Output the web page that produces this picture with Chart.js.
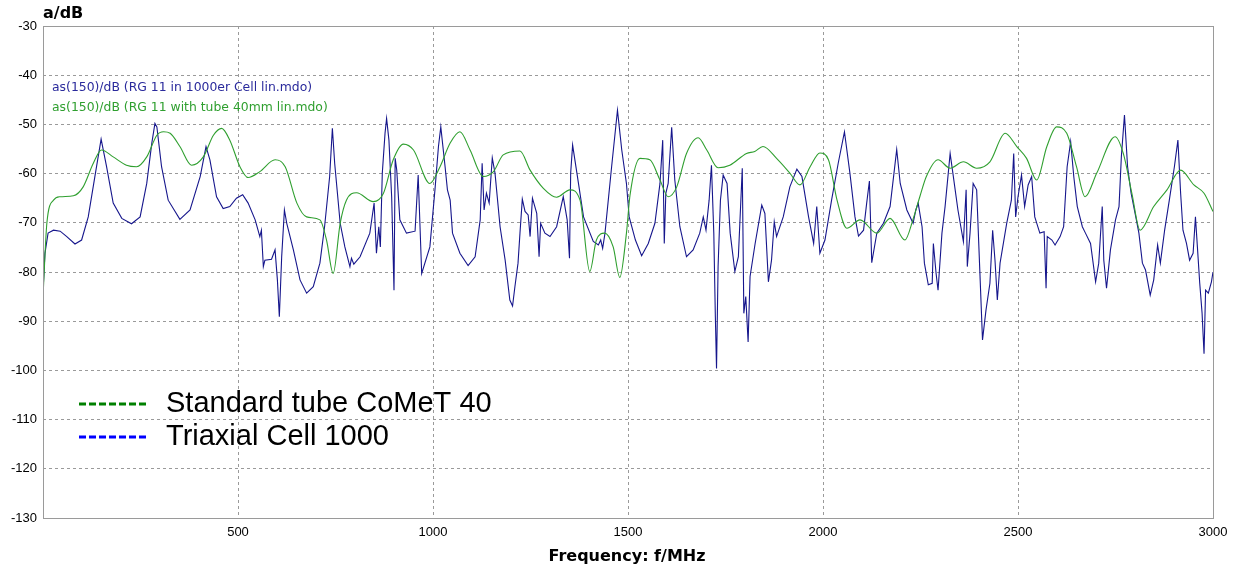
<!DOCTYPE html>
<html>
<head>
<meta charset="utf-8">
<script src="https://cdn.jsdelivr.net/npm/chart.js@4.4.1/dist/chart.umd.min.js"></script>
<style>
html,body{margin:0;padding:0;background:#fff;}
#wrap{width:1235px;height:568px;position:relative;}
</style>
</head>
<body>
<div id="wrap"><canvas id="c"></canvas></div>
<script>
// ---- data (frequency in MHz, attenuation in dB) ----
const xTicks = [500, 1000, 1500, 2000, 2500, 3000];
const yTicks = [-30, -40, -50, -60, -70, -80, -90, -100, -110, -120, -130];

const tubeFreq = [0,10,27,44,78,103,129,150,180,214,240,266,292,309,326,351,381,411,437,458,479,505,526,556,595,621,651,676,710,727,744,762,778,804,847,873,898,924,950,992,1018,1044,1069,1095,1129,1155,1180,1223,1249,1283,1317,1351,1377,1402,1419,1440,1462,1479,1496,1505,1531,1556,1582,1603,1625,1650,1680,1702,1731,1761,1804,1825,1846,1881,1915,1941,1967,1992,2014,2036,2061,2095,2138,2172,2210,2232,2249,2265,2295,2326,2360,2394,2428,2467,2497,2522,2548,2574,2599,2625,2650,2672,2702,2749,2770,2792,2813,2848,2882,2917,2951,2977,3000];
const tubeDb = [-85,-70,-65.4,-64.7,-64.5,-62.7,-57.9,-55.2,-56.6,-58.3,-58.6,-56.6,-52.2,-51.5,-51.8,-54.5,-58.3,-56.6,-52.2,-50.8,-53.2,-58.6,-60.8,-59.6,-57.2,-58.6,-66.0,-68.8,-69.4,-73.5,-80.3,-70.1,-65.4,-63.9,-65.7,-64.0,-57.2,-54.0,-55.2,-62.0,-58.6,-53.8,-51.5,-55.2,-60.6,-59.6,-56.2,-55.4,-59.3,-63.0,-64.8,-63.3,-65.4,-79.9,-73.5,-72.1,-74.9,-81.1,-72.1,-64.5,-56.9,-57.2,-61.3,-64.7,-62.7,-55.9,-52.7,-55.2,-58.8,-58.3,-55.9,-55.5,-54.5,-56.9,-59.9,-62.3,-58.6,-55.8,-57.2,-65.4,-71.1,-69.4,-72.1,-69.1,-73.5,-69,-64.5,-60.6,-57.2,-58.9,-57.6,-58.9,-57.6,-51.8,-54.5,-56.9,-61.3,-54.5,-50.5,-51.8,-58.6,-64.7,-59.9,-52.5,-55.9,-64.0,-71.5,-66.7,-63.3,-59.3,-62.3,-64.0,-67.7];

const cellFreq = [0,5,13,27,44,61,82,99,116,133,149,163,180,202,227,249,266,279,287,292,304,321,351,377,403,418,428,445,462,479,496,512,526,544,556,560,565,569,586,595,601,606,612,619,625,642,659,676,693,710,722,735,742,748,762,774,787,791,797,813,838,849,855,861,865,870,877,881,887,894,900,903,907,915,932,954,962,971,992,1005,1014,1020,1031,1037,1044,1050,1069,1090,1108,1121,1126,1131,1137,1144,1152,1159,1172,1185,1197,1204,1210,1218,1223,1229,1236,1244,1249,1255,1266,1272,1276,1287,1300,1317,1334,1344,1350,1353,1358,1369,1386,1411,1424,1430,1435,1441,1458,1473,1484,1496,1503,1519,1535,1552,1569,1582,1589,1593,1597,1603,1612,1620,1633,1650,1667,1684,1693,1700,1708,1714,1720,1724,1727,1731,1737,1744,1754,1762,1774,1783,1793,1797,1802,1808,1813,1826,1843,1851,1860,1868,1875,1881,1898,1915,1933,1946,1963,1976,1984,1992,2005,2022,2039,2055,2069,2082,2091,2104,2112,2119,2125,2138,2155,2172,2182,2189,2198,2215,2231,2238,2244,2254,2260,2270,2280,2283,2290,2295,2305,2313,2326,2333,2346,2360,2367,2370,2377,2385,2394,2403,2409,2418,2428,2435,2441,2447,2454,2471,2483,2489,2494,2500,2509,2517,2526,2535,2543,2556,2567,2572,2575,2587,2595,2608,2617,2626,2635,2643,2652,2665,2673,2686,2699,2707,2716,2720,2727,2737,2750,2759,2765,2773,2781,2790,2802,2810,2819,2827,2839,2848,2858,2865,2876,2888,2901,2910,2917,2923,2932,2940,2949,2955,2960,2966,2972,2977,2981,2988,2996,3000];
const cellDb = [-84,-76.2,-72.1,-71.5,-71.7,-72.8,-74.3,-73.5,-68.8,-60.6,-53.0,-58.6,-66.0,-69.1,-70.2,-68.8,-62.0,-53.8,-49.8,-50.5,-58.6,-65.4,-69.3,-67.4,-60.6,-54.5,-57.2,-64.7,-67.1,-66.7,-65.0,-64.3,-66.0,-69.4,-72.8,-71.5,-78.9,-77.6,-77.4,-75.5,-81.6,-89.1,-76.9,-67.4,-70.1,-75.5,-81.6,-84.3,-83.0,-78.2,-70.8,-60.6,-50.8,-58,-70.1,-74.9,-78.9,-77.2,-78.4,-76.9,-72.1,-66.0,-76.2,-70.8,-74.9,-59.9,-51.8,-48.8,-53.2,-64.7,-83.7,-56.9,-59.3,-69.4,-72.1,-71.7,-60.3,-80.3,-74.9,-63.3,-54.5,-50.5,-58.6,-63.3,-65.4,-72.1,-76.2,-78.7,-76.9,-69.4,-57.9,-67.4,-64.0,-66.0,-56.8,-59.9,-70.8,-77.6,-85.7,-86.9,-83.0,-78.2,-72.1,-65.2,-67.7,-68.4,-72.8,-65.0,-68.1,-76.9,-70.1,-72.1,-72.8,-70.8,-64.7,-69.4,-77.2,-59.9,-54.2,-59.9,-68.8,-73.8,-74.5,-73.5,-75.2,-72.1,-58.6,-47.1,-55.2,-62.0,-68.8,-73.5,-76.7,-74.2,-70.1,-62.0,-53.2,-74.2,-64.0,-62.0,-50.6,-61.3,-70.8,-76.9,-75.5,-72.1,-68.8,-71.5,-65.4,-58.3,-72.1,-89.1,-99.6,-78.9,-65.4,-60.3,-62.0,-72.1,-79.9,-76.9,-58.9,-88.4,-85.0,-94.2,-80.9,-74.2,-66.4,-68.1,-82.0,-77.6,-69.8,-72.8,-68.8,-62.7,-59.1,-60.6,-68.8,-74.2,-66.7,-76.2,-73.5,-65.4,-57.9,-51.5,-59.9,-68.8,-72.7,-71.5,-66.0,-61.5,-78.1,-72.1,-70.1,-66.7,-59.9,-55.1,-62.0,-67.4,-70.1,-67.4,-66.0,-70.8,-78.2,-82.6,-82.3,-74.2,-80.3,-83.7,-72.1,-66.7,-55.9,-59.9,-67.4,-73.8,-63.3,-78.9,-72.1,-62.0,-63.3,-81.6,-93.8,-87.7,-82.3,-71.5,-77.6,-85.7,-78.2,-70.1,-65.4,-55.9,-68.8,-64.7,-60.3,-66.7,-62.3,-60.6,-68.8,-72.1,-71.8,-83.3,-72.8,-73.5,-74.5,-72.8,-70.8,-58.6,-53.5,-60.6,-66.7,-70.8,-72.1,-74.2,-82.0,-78.2,-66.7,-77.6,-83.3,-75.5,-69.4,-66.7,-56.6,-48.1,-58.6,-64.0,-68.8,-72.1,-78.2,-79.6,-84.7,-81.6,-74.5,-78.2,-71.5,-65.4,-58.6,-53.2,-64.0,-71.5,-74.2,-77.6,-76.2,-68.8,-74.9,-82.3,-88.4,-96.6,-83.7,-84.3,-82.0,-80.0];

const fileLabels = ['as(150)/dB (RG 11 in 1000er Cell lin.mdo)', 'as(150)/dB (RG 11 with tube 40mm lin.mdo)'];
const legendLabels = ['Standard tube CoMeT 40', 'Triaxial Cell 1000'];

const toPts = (xs, ys) => xs.map((x, i) => ({x: x, y: ys[i]}));

const overlay = {
  id: 'overlay',
  afterDraw(chart) {
    const ctx = chart.ctx;
    const a = chart.chartArea;
    ctx.save();
    // frame
    ctx.strokeStyle = '#9a9a9a';
    ctx.lineWidth = 1;
    ctx.setLineDash([]);
    ctx.strokeRect(Math.round(a.left) + 0.5, Math.round(a.top) + 0.5, Math.round(a.right - a.left), Math.round(a.bottom - a.top));
    // axis titles
    ctx.fillStyle = '#000';
    ctx.font = 'bold 16px "DejaVu Sans"';
    ctx.textAlign = 'left';
    ctx.textBaseline = 'middle';
    ctx.fillText('a/dB', a.left, 14);
    ctx.font = 'bold 16px "DejaVu Sans"';
    ctx.textAlign = 'center';
    ctx.fillText('Frequency: f/MHz', 627, 557);
    // file labels
    ctx.font = '12.4px "DejaVu Sans"';
    ctx.textAlign = 'left';
    ctx.fillStyle = '#2a2a9c';
    ctx.fillText(fileLabels[0], a.left + 9, 88);
    ctx.fillStyle = '#2f9f2f';
    ctx.fillText(fileLabels[1], a.left + 9, 108);
    // big legend
    const rows = [{c: '#008000', y: 404, t: legendLabels[0]}, {c: '#0000ff', y: 437, t: legendLabels[1]}];
    rows.forEach(r => {
      ctx.strokeStyle = r.c;
      ctx.lineWidth = 3;
      ctx.setLineDash([7, 3]);
      ctx.beginPath();
      ctx.moveTo(79, r.y);
      ctx.lineTo(149, r.y);
      ctx.stroke();
      ctx.fillStyle = '#000';
      ctx.font = '29px "Liberation Sans"';
      ctx.textAlign = 'left';
      ctx.textBaseline = 'middle';
      ctx.fillText(r.t, 166, r.y);
    });
    ctx.restore();
  }
};

new Chart(document.getElementById('c'), {
  type: 'line',
  data: {
    datasets: [
      {
        label: fileLabels[1],
        data: toPts(tubeFreq, tubeDb),
        borderColor: '#2f9f2f',
        borderWidth: 1.1,
        pointRadius: 0,
        fill: false,
        tension: 0.4,
        cubicInterpolationMode: 'monotone'
      },
      {
        label: fileLabels[0],
        data: toPts(cellFreq, cellDb),
        borderColor: '#16168c',
        borderWidth: 1.1,
        pointRadius: 0,
        fill: false,
        tension: 0
      }
    ]
  },
  options: {
    responsive: true,
    maintainAspectRatio: false,
    animation: false,
    layout: {padding: {top: 26, right: 22, left: 0, bottom: 0}},
    plugins: {legend: {display: false}, title: {display: false}, tooltip: {enabled: false}},
    scales: {
      x: {
        type: 'linear',
        min: 0,
        max: 3000,
        afterFit(s) { s.height = 50; },
        afterBuildTicks(s) { s.ticks = [0].concat(xTicks).map(v => ({value: v})); },
        border: {display: false, dash: [3, 3]},
        grid: {color: '#9a9a9a', lineWidth: 1, drawTicks: false},
        ticks: {
          autoSkip: false,
          maxRotation: 0,
          padding: 7,
          color: '#000',
          font: {family: 'Liberation Sans', size: 13},
          callback: v => (v === 0 ? '' : String(v))
        }
      },
      y: {
        type: 'linear',
        min: -130,
        max: -30,
        afterFit(s) { s.width = 43; },
        afterBuildTicks(s) { s.ticks = yTicks.slice().reverse().map(v => ({value: v})); },
        border: {display: false, dash: [3, 3]},
        grid: {color: '#9a9a9a', lineWidth: 1, drawTicks: false},
        ticks: {
          autoSkip: false,
          padding: 6,
          color: '#000',
          font: {family: 'Liberation Sans', size: 13},
          callback: v => String(v)
        }
      }
    }
  },
  plugins: [overlay]
});
</script>
</body>
</html>
